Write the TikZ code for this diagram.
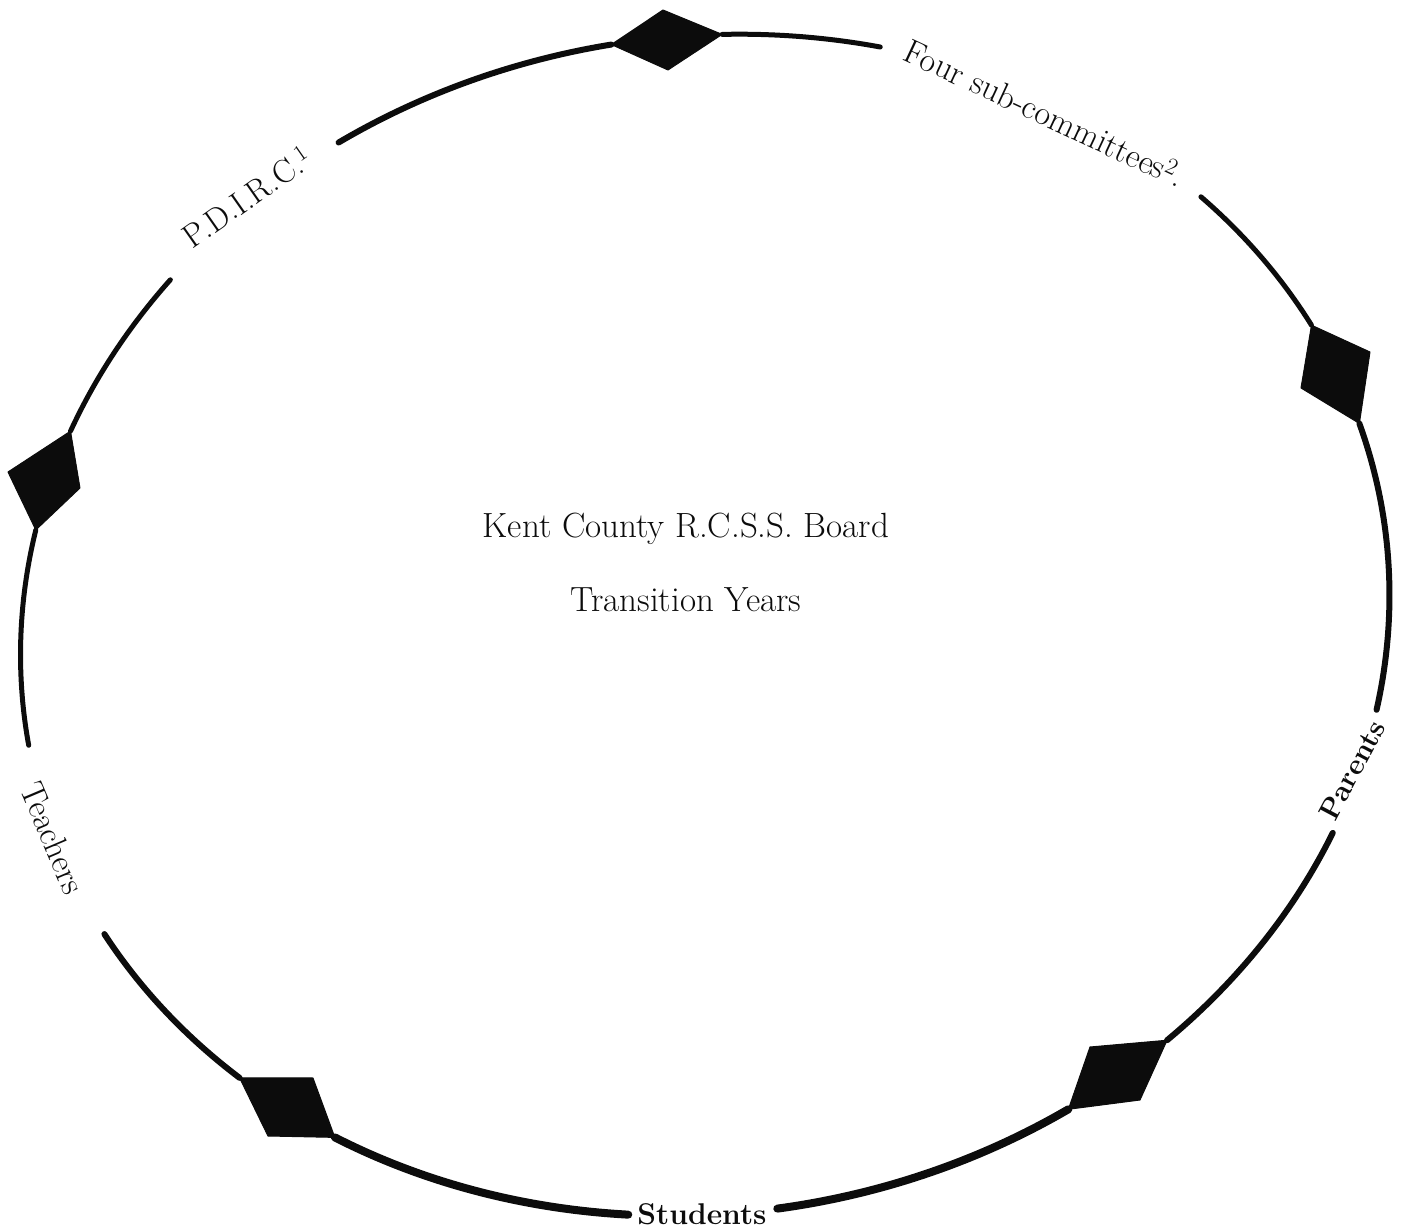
\documentclass[tikz,border=0pt]{standalone}
\usepackage{tikz}
\usetikzlibrary{calc}
\definecolor{ink}{RGB}{12,12,12}
\tikzset{
  ring/.style={draw=ink, line width=5pt, line cap=round},
  heavyring/.style={draw=ink, line width=8pt, line cap=round},
  ell/.style={x radius=687pt, y radius=588pt},
  kite/.style={fill=ink, draw=ink, line width=1pt, line join=round},
  lbl/.style={font=\fontsize{33}{38}\selectfont, color=ink, inner sep=0pt},
  boldlbl/.style={font=\fontsize{29}{35}\selectfont\bfseries, color=ink, inner sep=0pt},
  title/.style={font=\fontsize{35}{40}\selectfont, color=ink, anchor=base}
}

\begin{document}
\begin{tikzpicture}[x=1pt, y=1pt]
  \useasboundingbox (-705,-603) rectangle (696,625);
  % points on the ring (tilted ellipse)
  \begin{scope}[rotate=9.4]
    \foreach \n/\a in {tA/80.5, gA/67.1, gB/35.5, rA/19.55, rB/9.0, gC/-19.2,
                       gD/-31.55, brA/-55.6, brB/-66.0, gE/-92.0, gF/-104.5,
                       blA/-130.8, blB/-140.9, gG/-159.4, gH/-179.2, lA/-200.2,
                       lB/149.9, gI/133.3, gJ/114.3, tB/89.8}
      \coordinate (\n) at (\a:687pt and 588pt);
    % ring segments
    \draw[ring] (tA) arc[start angle=80.5, end angle=67.1, ell];
    \draw[ring] (gB) arc[start angle=35.5, end angle=19.55, ell];
    \draw[ring, line width=6pt] (rB) arc[start angle=9.0, end angle=-19.2, ell];
    \draw[ring, line width=6pt] (gD) arc[start angle=-31.55, end angle=-55.6, ell];
    \draw[heavyring] (brB) arc[start angle=-66.0, end angle=-92.0, ell];
    \draw[heavyring] (gF) arc[start angle=-104.5, end angle=-130.8, ell];
    \draw[ring, line width=6pt] (blB) arc[start angle=-140.9, end angle=-159.4, ell];
    \draw[ring] (gH) arc[start angle=-179.2, end angle=-200.2, ell];
    \draw[ring] (lB) arc[start angle=149.9, end angle=133.3, ell];
    \draw[ring, line width=6pt] (gJ) arc[start angle=114.3, end angle=89.8, ell];
  \end{scope}
  % diamond corners
  \coordinate (tU) at (-42,615);   \coordinate (tD) at (-37,555);
  \coordinate (rR) at (665,273);   \coordinate (rL) at (596,237);
  \coordinate (brU) at (385,-422); \coordinate (brD) at (435,-475);
  \coordinate (blU) at (-392,-453);\coordinate (blD) at (-437,-511);
  \coordinate (lL) at (-697,153);  \coordinate (lR) at (-625,137);
  % diamonds
  \fill[kite] (tB) -- (tU) -- (tA) -- (tD) -- cycle;
  \fill[kite] (rA) -- (rR) -- (rB) -- (rL) -- cycle;
  \fill[kite] (brA) -- (brU) -- (brB) -- (brD) -- cycle;
  \fill[kite] (blA) -- (blU) -- (blB) -- (blD) -- cycle;
  \fill[kite] (lB) -- (lR) -- (lA) -- (lL) -- cycle;
  % labels on the ring
  \node[lbl, rotate=35] (pdirc) at (-458,428) {P.D.I.R.C.\textsuperscript{1}};
  \node[lbl, rotate=-25, font=\fontsize{34}{38}\selectfont] (subcom) at (340,512)
    {Four sub-committees\textsuperscript{2}.};
  \node[boldlbl, rotate=62] (parents) at (647,-145) {Parents};
  \node[boldlbl, font=\fontsize{30}{36}\selectfont\bfseries] (students) at (-3,-589) {Students};
  \node[lbl, rotate=-67, font=\fontsize{34}{38}\selectfont] (teachers) at (-652,-213) {Teachers};
  % centre
  \node[title] (board) at (-19,87) {Kent County R.C.S.S. Board};
  \node[title] (years) at (-19,13) {Transition Years};
\end{tikzpicture}
\end{document}
